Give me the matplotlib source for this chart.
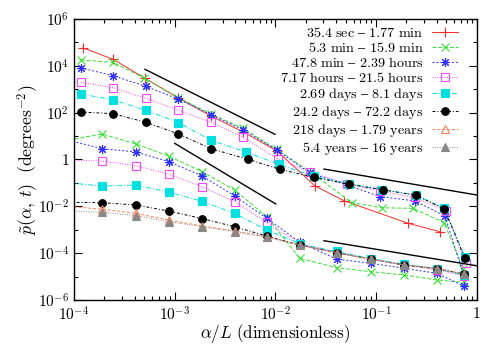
import numpy as np
import matplotlib
matplotlib.use('Agg')
import matplotlib.pyplot as plt
from matplotlib.ticker import FixedLocator, FuncFormatter, NullFormatter

plt.rcParams['mathtext.fontset'] = 'cm'

labels = ['35.4 sec – 1.77 min', '5.3 min – 15.9 min', '47.8 min – 2.39 hours',
          '7.17 hours – 21.5 hours', '2.69 days – 8.1 days', '24.2 days – 72.2 days',
          '218 days – 1.79 years', '5.4 years – 16 years']

# upper family of curves
red_x = [1.22e-4, 2.45e-4, 5.1e-4, 1.09e-3, 2.29e-3, 4.8e-3, 1.04e-2, 2.47e-2, 4.8e-2, 0.207, 0.43]
red_y = [5.9e4, 1.9e4, 2.9e3, 4.2e2, 72, 15, 2.3, 7.4e-2, 1.74e-2, 1.9e-3, 8.3e-4]

green_x = [1.17e-4, 2.45e-4, 4.99e-4, 1.09e-3, 2.29e-3, 4.73e-3, 1.03e-2, 2.21e-2, 5.73e-2, 0.114, 0.234, 0.475, 0.734]
green_y = [1.77e4, 1.41e4, 3.0e3, 4.4e2, 88, 21.5, 2.7, 0.30, 1.43e-2, 8.7e-3, 8.2e-3, 2.0e-3, 2.05e-5]

blue_x = [1.17e-4, 2.45e-4, 5.15e-4, 1.09e-3, 2.29e-3, 4.76e-3, 1.04e-2, 2.21e-2, 5.18e-2, 0.109, 0.243, 0.483, 0.746]
blue_y = [8.1e3, 3.8e3, 1.33e3, 3.8e2, 82, 18.7, 2.5, 0.26, 8.1e-2, 2.6e-2, 1.7e-2, 3.9e-3, 1.07e-5]

mag_x = [1.17e-4, 2.45e-4, 5.15e-4, 1.09e-3, 2.29e-3, 4.76e-3, 1.06e-2, 2.21e-2, 5.14e-2, 0.109, 0.243, 0.494, 0.776]
mag_y = [1.98e3, 1.16e3, 4.1e2, 1.26e2, 39, 8.9, 1.05, 0.29, 9.4e-2, 4.5e-2, 2.4e-2, 6.3e-3, 3.8e-5]

cyan_x = [1.17e-4, 2.45e-4, 5.15e-4, 1.09e-3, 2.29e-3, 5.1e-3, 1.09e-2, 2.42e-2, 5.38e-2, 0.115, 0.249, 0.478, 0.764]
cyan_y = [6.3e2, 3.5e2, 1.26e2, 38, 6.6, 2.1, 0.62, 0.19, 9.4e-2, 5.2e-2, 3.0e-2, 8.1e-3, 6.9e-5]

black_x = [1.17e-4, 2.45e-4, 5.15e-4, 1.09e-3, 2.29e-3, 5.35e-3, 1.11e-2, 2.42e-2, 5.4e-2, 0.116, 0.248, 0.477, 0.762]
black_y = [1.07e2, 90, 39, 12.3, 2.9, 1.02, 0.38, 0.174, 8.7e-2, 5.1e-2, 3.0e-2, 7.7e-3, 6.0e-5]

# lower family of curves (shared alpha/L grid, first point lies left of the axis)
low_x = [8.9e-5, 1.9e-4, 4.13e-4, 8.7e-4, 1.87e-3, 3.93e-3, 8.2e-3, 1.75e-2, 4.05e-2, 8.9e-2, 0.191, 0.40, 0.74]
green_low = [6.8, 12.3, 4.6, 1.41, 0.30, 5.0e-2, 3.6e-3, 6.0e-5, 2.4e-5, 1.62e-5, 1.17e-5, 7.2e-6, 5.7e-6]
blue_low = [6.6, 2.9, 2.1, 0.81, 0.20, 2.8e-2, 3.1e-3, 2.9e-4, 5.6e-5, 3.7e-5, 2.26e-5, 1.38e-5, 4.0e-6]
mag_low = [0.95, 0.86, 0.54, 0.24, 6.9e-2, 1.58e-2, 2.1e-3, 2.5e-4, 1.12e-4, 5.6e-5, 3.1e-5, 2.0e-5, 1.06e-5]
cyan_low = [0.1, 7.4e-2, 8.1e-2, 4.1e-2, 1.64e-2, 5.0e-3, 9.8e-4, 2.5e-4, 1.18e-4, 5.9e-5, 3.3e-5, 2.2e-5, 1.17e-5]
black_low = [1.48e-2, 1.43e-2, 1.14e-2, 6.3e-3, 3.0e-3, 1.35e-3, 5.4e-4, 2.2e-4, 1.05e-4, 5.5e-5, 3.1e-5, 2.2e-5, 1.29e-5]
orange_low = [1.0e-2, 7.5e-3, 5.0e-3, 2.6e-3, 1.45e-3, 8.9e-4, 5.1e-4, 2.2e-4, 1.05e-4, 5.5e-5, 3.1e-5, 2.2e-5, 1.35e-5]
gray_low = [6.3e-3, 5.6e-3, 4.0e-3, 2.2e-3, 1.35e-3, 8.3e-4, 4.8e-4, 2.2e-4, 1.02e-4, 5.4e-5, 3.1e-5, 2.1e-5, 1.3e-5]

# power-law guide lines
guide_x = [[5.07e-4, 9.9e-3], [1.0e-3, 1.01e-2], [3.04e-2, 1.0], [3.04e-2, 1.0]]
guide_y = [[7.1e3, 11.9], [4.9, 1.26e-2], [0.39, 3.05e-2], [3.4e-4, 2.9e-5]]

styles = [
    dict(color='#ff2a2a', marker='+', ls='-', ms=6.5),
    dict(color='#33e033', marker='x', ls=(0, (4, 2)), ms=5.5),
    dict(color='#2f2fff', marker=(8, 2, 0), ls=(0, (2, 2)), ms=6.5),
    dict(color='#ff45ff', marker='s', ls=(0, (1, 1.5)), ms=6, mfc='none'),
    dict(color='#00e0e0', marker='s', ls=(0, (5, 2, 1, 2)), ms=5.5),
    dict(color='black', marker='o', ls=(0, (3, 2, 1, 2)), ms=5.5),
    dict(color='#ff7f50', marker='^', ls=(0, (3, 2)), ms=5.5, mfc='none'),
    dict(color='#888888', marker='^', ls=(0, (1, 1.5)), ms=5.5),
]

upper = [(red_x, red_y), (green_x, green_y), (blue_x, blue_y), (mag_x, mag_y),
         (cyan_x, cyan_y), (black_x, black_y), None, None]
lower = [None, green_low, blue_low, mag_low, cyan_low, black_low, orange_low, gray_low]

fig = plt.figure(figsize=(4.85, 3.44), dpi=100)
ax = fig.add_axes([0.1526, 0.1279, 0.8304, 0.8169])

for i in range(8):
    st = dict(styles[i])
    st.setdefault('mfc', st['color'])
    kw = dict(lw=0.7, mew=0.8, **st)
    handle = None
    if upper[i] is not None:
        handle, = ax.plot(upper[i][0], upper[i][1], **kw)
    if lower[i] is not None:
        h, = ax.plot(low_x, lower[i], **kw)
        handle = handle or h
    handle.set_label(r'$\mathrm{' + labels[i].replace(' ', r'\ ') + '}$')

for gx, gy in zip(guide_x, guide_y):
    ax.plot(gx, gy, color='black', lw=1.0)

ax.set_xscale('log')
ax.set_yscale('log')
ax.set_xlim(1e-4, 1)
ax.set_ylim(1e-6, 1e6)

def fmt(v, pos):
    e = int(round(np.log10(v)))
    return '$1$' if e == 0 else r'$10^{%d}$' % e

ax.yaxis.set_major_locator(FixedLocator([10.0 ** e for e in range(-6, 7, 2)]))
ax.yaxis.set_minor_locator(FixedLocator([10.0 ** e for e in range(-5, 6, 2)]))
ax.yaxis.set_major_formatter(FuncFormatter(fmt))
ax.yaxis.set_minor_formatter(NullFormatter())
ax.xaxis.set_major_formatter(FuncFormatter(fmt))
ax.xaxis.set_minor_formatter(NullFormatter())
ax.tick_params(which='both', direction='in', top=True, right=True, labelsize=11, width=0.8)
ax.tick_params(which='major', length=6)
ax.tick_params(which='minor', length=3)
ax.tick_params(axis='x', pad=4)
for s in ax.spines.values():
    s.set_linewidth(1.0)

ax.set_xlabel(r'$\alpha/L\ (\mathrm{dimensionless})$', fontsize=12.3, labelpad=-1)
ax.set_ylabel(r'$\tilde{p}(\alpha,\,t)\ \ (\mathrm{degrees}^{-2})$', fontsize=12.8, labelpad=-2)

ax.legend(loc='upper right', bbox_to_anchor=(0.977, 1.01), markerfirst=False, frameon=False,
          fontsize=10.2, labelspacing=0.07, handlelength=1.8, handletextpad=0.6, borderpad=0.2)

fig.savefig('out.png', dpi=100)
